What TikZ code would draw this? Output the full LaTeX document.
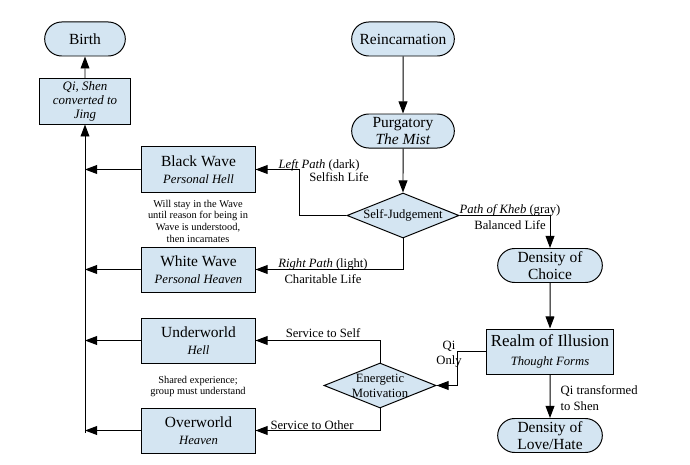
\documentclass[tikz,border=0pt]{standalone}
\usepackage{fontspec}
\setmainfont{Liberation Serif}
\usetikzlibrary{arrows.meta, positioning, shapes.misc, shapes.geometric}

\definecolor{boxblue}{HTML}{D4E5F2}
\newcommand{\subttl}[1]{{\fontsize{9}{10.5}\selectfont\itshape #1}}

\begin{document}
\begin{tikzpicture}[
    x=0.025cm, y=-0.025cm,
    term/.style={rounded rectangle, draw, fill=boxblue, line width=0.7pt, minimum height=0.85cm,
        inner ysep=1pt, align=center, font=\fontsize{11}{12.5}\selectfont},
    box/.style={rectangle, draw, fill=boxblue, line width=0.7pt, minimum width=2.825cm,
        minimum height=1.125cm, inner ysep=1pt, align=center, font=\fontsize{11}{12.5}\selectfont},
    decision/.style={diamond, aspect=2.5, draw, fill=boxblue, line width=0.7pt, minimum width=2.8cm,
        minimum height=1.125cm, inner sep=0pt, align=center, font=\fontsize{9}{10.5}\selectfont},
    flow/.style={-{Triangle[length=3mm, width=2.2mm]}, line width=0.7pt},
    lbl/.style={inner sep=1pt, align=center, font=\fontsize{9}{11}\selectfont},
    note/.style={inner sep=0pt, align=center, font=\fontsize{7.4}{8.3}\selectfont}
]
    \useasboundingbox (0,0) rectangle (690,465);

    % left column
    \node[term, minimum width=2.25cm] (birth) at (85,39) {Birth};
    \node[box, minimum width=2.25cm, font=\fontsize{9.2}{10}\selectfont\itshape] (qsj) at (85,101.5) {Qi, Shen\\converted to\\Jing};
    \coordinate (spine) at (85,433);

    \node[box] (bw) at (198.5,169.5) {Black Wave\\\subttl{Personal Hell}};
    \node[note] (bwnote) at (198,221) {Will stay in the Wave\\until reason for being in\\Wave is understood,\\then incarnates};
    \node[box] (ww) at (198.5,269.5) {White Wave\\\subttl{Personal Heaven}};
    \node[box] (uw) at (198.5,340.5) {Underworld\\\subttl{Hell}};
    \node[note] (uwnote) at (198,386.5) {Shared experience;\\group must understand};
    \node[box] (ow) at (198.5,430.5) {Overworld\\\subttl{Heaven}};

    % middle and right
    \node[term, minimum width=2.8cm] (reinc) at (403,39) {Reincarnation};
    \node[term, minimum width=2.8cm, below=1.425cm of reinc] (purg) {Purgatory\\\textit{The Mist}};
    \node[decision] (sj) at (403,215.5) {Self-Judgement};
    \node[term, minimum width=2.85cm] (doc) at (550,265.5) {Density of\\Choice};
    \node[box, minimum width=2.85cm, font=\fontsize{12}{13.5}\selectfont] (roi) at (550,351.5) {Realm of Illusion\\\subttl{Thought Forms}};
    \node[term, minimum width=2.85cm] (dlh) at (550,435.5) {Density of\\Love/Hate};
    \node[decision, inner sep=-1pt] (em) at (380,385.5) {Energetic\\Motivation};

    \draw[flow] (qsj) -- (birth);
    \draw[flow] (spine) -- (qsj);
    \foreach \n in {bw,ww,uw,ow}
        \draw[flow] (\n.west) -- (\n.west -| spine);

    \draw[flow] (reinc) -- (purg);
    \draw[flow] (purg) -- (sj);
    \draw[flow] (sj.west) -- ++(-47,0) |- (bw.east);
    \draw[flow] (sj.south) |- (ww.east);
    \draw[flow] (sj.east) -| (doc.north);
    \draw[flow] (doc) -- (roi);
    \draw[flow] (roi) -- (dlh);
    \draw[flow] (roi.west) -- ++(-28,0) |- (em.east);
    \draw[flow] (em.north) |- (uw.east);
    \draw[flow] (em.south) |- (ow.east);

    % path labels
    \node[lbl, anchor=base west] (lp) at (277,168.5) {\textit{Left Path} (dark)};
    \node[lbl, anchor=north] (sl) at (339,171) {Selfish Life};
    \node[lbl] (rp) at (323,271) {\textit{Right Path} (light)\\Charitable Life};
    \node[lbl] (pk) at (510,217) {\textit{Path of Kheb} (gray)\\Balanced Life};
    \node[lbl, anchor=base] (sts) at (323,337.5) {Service to Self};
    \node[lbl, anchor=base] (sto) at (312,429) {Service to Other};
    \node[lbl, inner sep=0pt, anchor=east] (qo) at (462,354) {Qi\\Only};
    \node[lbl, align=left, anchor=west] (qts) at (559,398) {Qi transformed\\to Shen};
\end{tikzpicture}
\end{document}
